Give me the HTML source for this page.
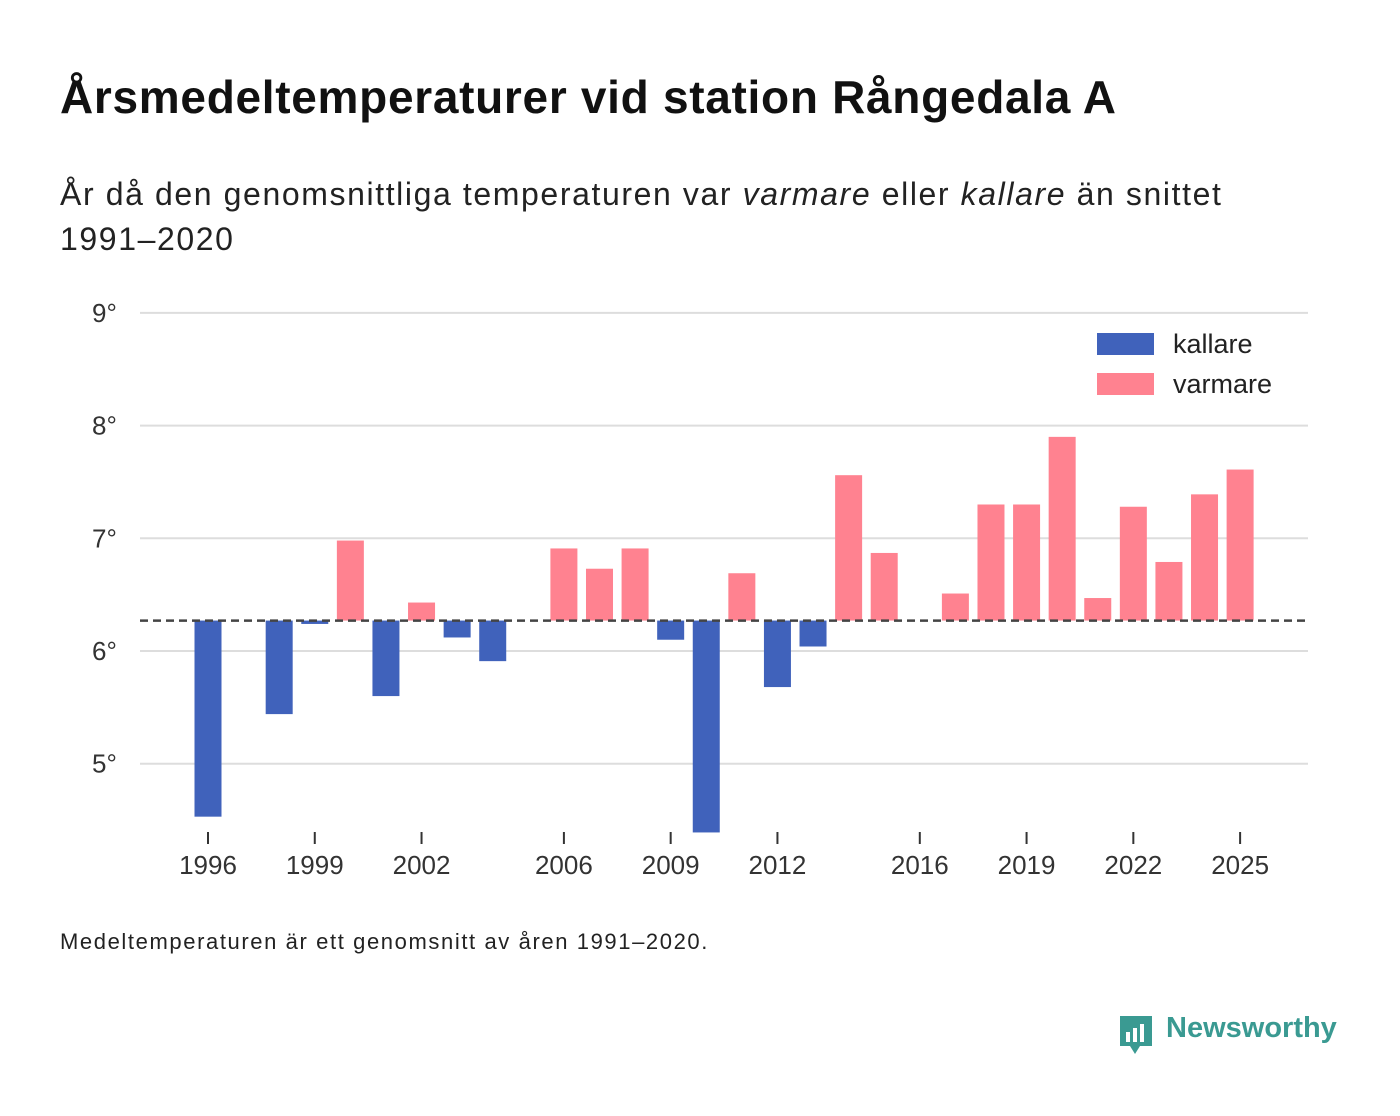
<!DOCTYPE html>
<html><head><meta charset="utf-8">
<style>
body{margin:0;background:#fff;width:1400px;height:1116px;overflow:hidden;font-family:"Liberation Sans",sans-serif;color:#111;}
#title{position:absolute;left:60px;top:70px;font-size:46px;font-weight:bold;margin:0;letter-spacing:0.7px}
#subtitle{position:absolute;left:60px;top:172px;font-size:32px;line-height:45px;width:1300px;margin:0;color:#222;letter-spacing:1.6px}
#note{position:absolute;left:60px;top:929px;font-size:22px;color:#222;letter-spacing:1.6px}
#logo{position:absolute;left:1118px;top:1012px;font-size:29px;color:#3a9a92;font-weight:bold}
svg{position:absolute;left:0;top:0}
</style></head><body>
<h1 id="title">Årsmedeltemperaturer vid station Rångedala A</h1>
<p id="subtitle">År då den genomsnittliga temperaturen var <i>varmare</i> eller <i>kallare</i> än snittet<br>1991–2020</p>
<svg id="chart" width="1400" height="1116"></svg>
<div id="note">Medeltemperaturen är ett genomsnitt av åren 1991–2020.</div>
<div id="logo"><svg width="36" height="44" style="position:absolute;left:0;top:2px"><path d="M2 2h32v30H22l-5 8-5-8H2z" fill="#3a9a92"/><rect x="8" y="18" width="4" height="10" fill="#fff"/><rect x="15" y="14" width="4" height="14" fill="#fff"/><rect x="22" y="10" width="4" height="18" fill="#fff"/></svg><span style="margin-left:48px">Newsworthy</span></div>
<script>
const years=[1996,1998,1999,2000,2001,2002,2003,2004,2006,2007,2008,2009,2010,2011,2012,2013,2014,2015,2017,2018,2019,2020,2021,2022,2023,2024,2025];
const temps=[4.53,5.44,6.24,6.98,5.60,6.43,6.12,5.91,6.91,6.73,6.91,6.10,4.39,6.69,5.68,6.04,7.56,6.87,6.51,7.30,7.30,7.90,6.47,7.28,6.79,7.39,7.61];
const baseline=6.27;
const yTicks=[5,6,7,8,9];
const xTicks=[1996,1999,2002,2006,2009,2012,2016,2019,2022,2025];
const NS="http://www.w3.org/2000/svg";
const svg=document.getElementById('chart');
const x=v=>208+(v-1996)*35.59;
const y=v=>651-(v-6)*112.7;
function el(t,a){const e=document.createElementNS(NS,t);for(const k in a)e.setAttribute(k,a[k]);svg.appendChild(e);return e;}
yTicks.forEach(t=>{
  const g=el('line',{x1:140,x2:1308,y1:y(t),y2:y(t),stroke:'#ddd','stroke-width':2});
  
  
  const l=el('text',{x:92,y:y(t)+9,'font-size':26,fill:'#333','font-family':'Liberation Sans'});
  l.textContent=t+'°';
  
  
});
years.forEach((yr,i)=>{
  const v=temps[i];const top=Math.min(y(v),y(baseline));const h=Math.abs(y(v)-y(baseline));
  const r=el('rect',{x:x(yr)-13.5,y:top,width:27,height:Math.max(h,1),fill:v<baseline?'#4062bb':'#ff8290'});
  
  
});
const bl=el('line',{x1:140,x2:1308,y1:y(baseline),y2:y(baseline),stroke:'#444','stroke-width':2.5,'stroke-dasharray':'8,5'});


xTicks.forEach(t=>{
  const tk=el('line',{x1:x(t),x2:x(t),y1:832,y2:844,stroke:'#333','stroke-width':2});
  
  
  const l=el('text',{x:x(t),y:874,'font-size':26,fill:'#333','text-anchor':'middle','font-family':'Liberation Sans'});
  l.textContent=t;
  
  
});
[['kallare','#4062bb',344],['varmare','#ff8290',384]].forEach(([n,c,cy])=>{
  const r=el('rect',{x:1097,y:cy-11,width:57,height:22,fill:c});
  
  
  const t=el('text',{x:1173,y:cy+9,'font-size':27,fill:'#222','font-family':'Liberation Sans'});
  t.textContent=n;
  
  
});
</script>
</body></html>
